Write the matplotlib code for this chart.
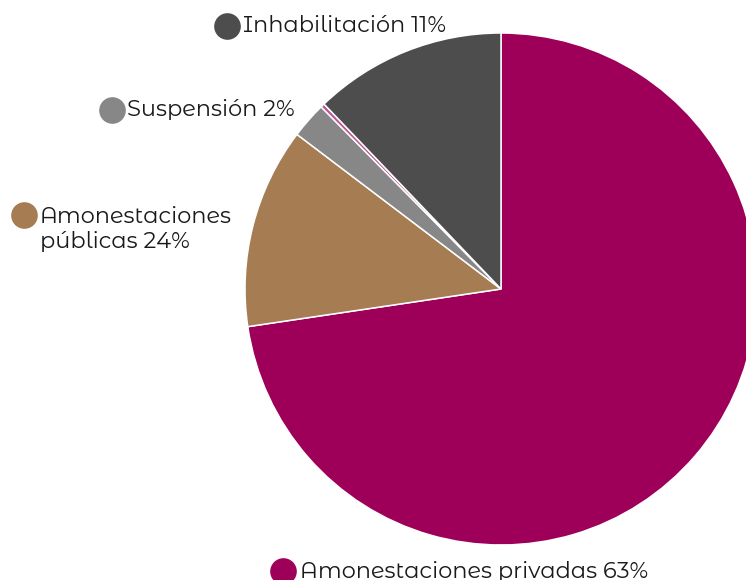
import matplotlib
matplotlib.use("Agg")
import matplotlib.pyplot as plt

# Data (slice sizes, labels as printed)
categories = ["Amonestaciones privadas", "Amonestaciones públicas", "Suspensión", "Otro", "Inhabilitación"]
values = [72.65, 12.67, 2.28, 0.25, 12.15]
label_texts = ["Amonestaciones privadas 63%", "Amonestaciones\npúblicas 24%", "Suspensión 2%", None, "Inhabilitación 11%"]
colors = ["#9E0059", "#A67C52", "#878787", "#C0559A", "#4D4D4D"]

W, H = 746, 580
fig = plt.figure(figsize=(W / 100, H / 100), dpi=100)
ax = fig.add_axes([0, 0, 1, 1])
ax.set_xlim(0, W)
ax.set_ylim(0, H)
ax.set_aspect("equal")
ax.axis("off")

ax.pie(values, colors=colors, startangle=90, counterclock=False,
       center=(501, H - 289), radius=256,
       wedgeprops=dict(edgecolor="white", linewidth=1.1))
ax.set_xlim(0, W)
ax.set_ylim(0, H)

font = ["Montserrat Alternates", "DejaVu Sans"]
label_pos = {  # marker center (px from top-left), text x, text center y
    0: (283, 571, 300, 571),
    1: (24, 215, 40, 229),
    2: (112, 110, 127, 110),
    4: (227, 26, 243, 26),
}
for i, (mx, my, tx, ty) in label_pos.items():
    ax.scatter([mx], [H - my], s=330, color=colors[i], zorder=5, clip_on=False)
    ax.text(tx, H - ty, label_texts[i], fontsize=16.2, fontweight=400, color="#1a1a1a",
            family=font, va="center", ha="left", linespacing=1.25)

fig.savefig("out.png", dpi=100)
